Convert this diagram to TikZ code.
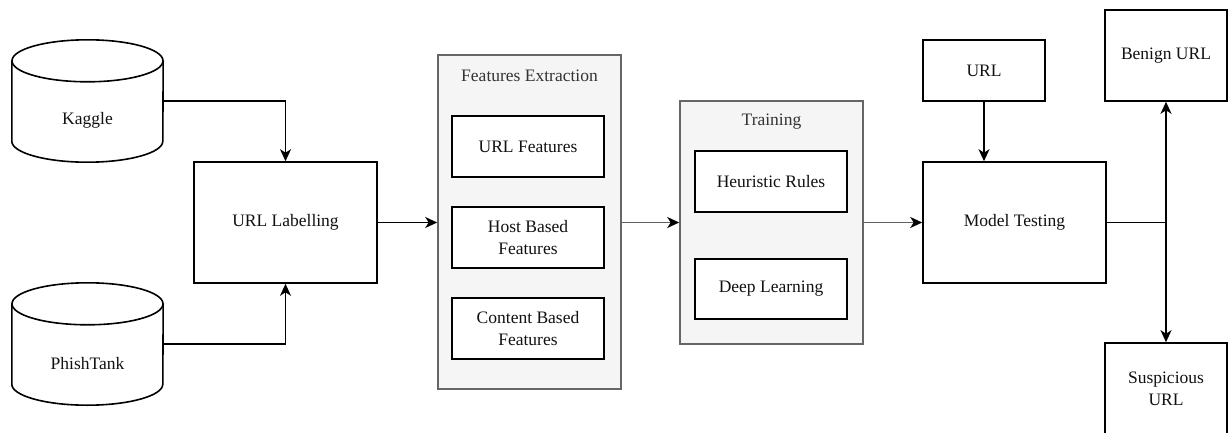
\documentclass[tikz,border=0pt]{standalone}
\usepackage{fontspec}
\setmainfont{Liberation Serif}
\usetikzlibrary{arrows.meta}
\definecolor{panelfill}{HTML}{F5F5F5}
\definecolor{paneledge}{HTML}{666666}
\definecolor{inktext}{HTML}{111111}
\definecolor{titletext}{HTML}{333333}
\begin{document}
\begin{tikzpicture}[x=1pt,y=-1pt,
  font=\fontsize{17.5}{22.5}\selectfont,
  box/.style={draw=black,line width=1.6pt,fill=white,text=inktext,align=center,
    inner sep=0pt,minimum width=#1},
  box/.default=152pt,
  panel/.style={draw=paneledge,line width=1.6pt,fill=panelfill,inner sep=0pt},
  cylbody/.style={inner sep=0pt,minimum width=151pt,minimum height=122pt},
  cylline/.style={draw=black,line width=1.6pt},
  wire/.style={draw=black,line width=1.6pt},
  arr/.style={wire,-{Stealth[length=12pt,width=11pt,inset=3.5pt]}},
  softarr/.style={draw=black!62,line width=1.8pt,-{Stealth[length=12pt,width=11pt,inset=3.5pt,black]}},
  paneltitle/.style={text=titletext,inner sep=0pt},
  lbl/.style={text=inktext,inner sep=0pt}
]
\useasboundingbox (0,0) rectangle (1231,433);

% data sources (cylinders drawn around invisible nodes)
\node[cylbody] (kaggle) at (87.5,101) {};
\node[cylbody] (phish) at (87.5,344) {};
\foreach \c in {kaggle,phish}{
  \draw[cylline,fill=white] ([yshift=-21pt]\c.north west) -- ([yshift=21pt]\c.south west)
    arc[start angle=180,end angle=360,x radius=75.5pt,y radius=21pt]
    -- ([yshift=-21pt]\c.north east);
  \draw[cylline] ([yshift=-21pt]\c.north) ellipse[x radius=75.5pt,y radius=21pt];
}
\node[lbl] at ([yshift=-19pt]kaggle.center) {Kaggle};
\node[lbl] at ([yshift=-20pt]phish.center) {PhishTank};

% labelling
\node[box=183pt,minimum height=121pt] (lab) at (285.5,222.5) {URL Labelling};

% feature extraction panel
\node[panel,minimum width=183pt,minimum height=334pt] (fe) at (529.5,222) {};
\node[paneltitle] at (529.5,76) {Features Extraction};
\node[box,minimum height=61pt] (urlf) at (528,146.5) {URL Features};
\node[box,minimum height=61pt] (hostf) at (528,237.5) {Host Based\\Features};
\node[box,minimum height=61pt] (contf) at (528,328.5) {Content Based\\Features};

% training panel
\node[panel,minimum width=183pt,minimum height=243pt] (tr) at (771.5,222.5) {};
\node[paneltitle] at (771.5,122) {Training};
\node[box,minimum height=61pt] (heur) at (771,181.5) {Heuristic Rules};
\node[box,minimum height=60pt] (deep) at (771,289) {Deep Learning};

% testing and outcomes
\node[box=122pt,minimum height=61pt] (url) at (984,70.5) {URL};
\node[box=183pt,minimum height=121pt] (mt) at (1014.5,222.5) {Model Testing};
\node[box=122pt,minimum height=91pt] (benign) at (1166,55.5) {Benign URL};
\node[box=122pt,minimum height=92pt] (susp) at (1166,389) {Suspicious\\URL};

% connectors
\draw[arr] (kaggle.east) -| (lab.north);
\draw[arr] (phish.east) -| (lab.south);
\draw[arr] (lab.east) -- (fe.west |- lab.east);
\draw[softarr] (fe.east |- tr.west) -- (tr.west);
\draw[softarr] (tr.east) -- (mt.west);
\draw[arr] (url.south) -- (url.south |- mt.north);
\coordinate (split) at (benign.south |- mt.east);
\draw[wire] (mt.east) -- (split);
\draw[arr] (split) -- (benign.south);
\draw[arr] (split) -- (susp.north);
\end{tikzpicture}
\end{document}
